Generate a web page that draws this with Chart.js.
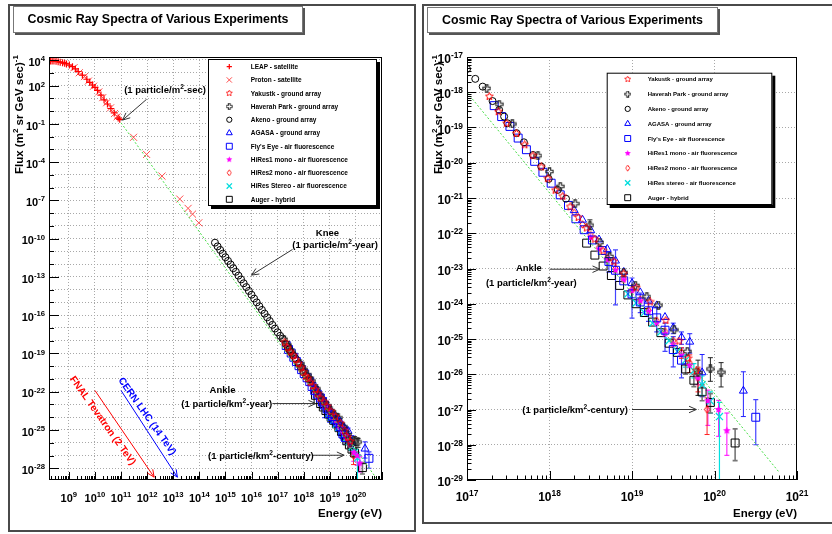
<!DOCTYPE html>
<html>
<head>
<meta charset="utf-8">
<title>Cosmic Ray Spectra of Various Experiments</title>
<script src="https://cdn.jsdelivr.net/npm/chart.js@4.4.1/dist/chart.umd.min.js"></script>
<style>
  html, body { margin: 0; padding: 0; background: #fff; }
  #page { position: relative; width: 832px; height: 534px; overflow: hidden; }
  .pane { position: absolute; top: 0; width: 416px; height: 534px; }
  .frame { position: absolute; box-sizing: border-box; border: 2px solid #4a4a4a; }
  .title { position: absolute; box-sizing: border-box; background: #fff; border: 1px solid #777;
           box-shadow: 2px 2px 0 #555; font: bold 12.4px "Liberation Sans", Arial, sans-serif;
           color: #000; text-align: center; white-space: nowrap; }
</style>
</head>
<body>
<div id="page">
  <div class="frame" style="left:8px;top:4px;width:408px;height:528px"></div>
  <div class="frame" style="left:422px;top:4px;width:420px;height:520px"></div>
  <div class="pane" style="left:0"><canvas id="full" width="416" height="534"></canvas></div>
  <div class="pane" style="left:416px"><canvas id="zoom" width="416" height="534"></canvas></div>
  <div class="title" style="left:13px;top:6px;width:290px;height:27px;line-height:25px">Cosmic Ray Spectra of Various Experiments</div>
  <div class="title" style="left:427px;top:7px;width:291px;height:26px;line-height:24px">Cosmic Ray Spectra of Various Experiments</div>
</div>
<script>
// values: log10(E / eV) and log10(flux)
const fitE = [11, 20.78];
const fitF = [-0.92, -28.77];

const leapE = [8.3, 8.36, 8.43, 8.51, 8.59, 8.67, 8.76, 8.84, 8.91, 9.02, 9.14, 9.25, 9.36, 9.52, 9.69, 9.8, 9.91, 10.0, 10.1, 10.23, 10.35, 10.48, 10.61, 10.74, 10.89, 10.95];
const leapF = [3.92, 3.92, 3.92, 3.9, 3.87, 3.83, 3.79, 3.74, 3.69, 3.6, 3.48, 3.3, 3.1, 2.82, 2.49, 2.25, 2.04, 1.85, 1.62, 1.25, 0.88, 0.55, 0.2, -0.15, -0.55, -0.65];

const protonE = [9.2, 9.4, 9.6, 9.75, 9.95, 10.15, 10.3, 10.45, 10.6, 10.75, 10.85, 11.48, 11.98, 12.57, 13.25, 13.57, 13.74, 13.98];
const protonF = [3.4, 3.0, 2.7, 2.35, 1.95, 1.5, 1.05, 0.65, 0.25, -0.2, -0.45, -2.06, -3.4, -5.1, -6.9, -7.63, -8.08, -8.76];

const yakutskE = [17.27, 17.38, 17.48, 17.6, 17.7, 17.8, 17.9, 17.98, 18.07, 18.16, 18.25, 18.35, 18.45, 18.55, 18.65, 18.78, 18.9, 19.05, 19.22, 19.41, 19.57, 19.68, 19.78];
const yakutskF = [-18.12, -18.55, -18.88, -19.17, -19.49, -19.8, -20.12, -20.45, -20.78, -20.95, -21.25, -21.55, -21.85, -22.17, -22.5, -22.8, -23.15, -23.55, -23.95, -24.47, -25.06, -25.55, -25.9];

const haverahE = [17.24, 17.39, 17.55, 17.86, 18.0, 18.13, 18.31, 18.49, 18.61, 18.73, 18.9, 19.04, 19.18, 19.32, 19.51, 19.67, 19.8, 19.95, 20.08];
const haverahF = [-17.89, -18.34, -18.9, -19.8, -20.25, -20.67, -21.16, -21.77, -22.26, -22.66, -23.11, -23.48, -23.8, -24.04, -24.74, -25.35, -25.95, -25.85, -25.94];
const haverahErr = [[18.49, -21.62, -21.9], [19.8, -25.6, -26.6], [19.95, -25.53, -26.2], [20.08, -25.67, -26.36]];

const akenoE = [14.6, 14.7, 14.8, 14.9, 15.0, 15.1, 15.2, 15.3, 15.4, 15.5, 15.6, 15.7, 15.8, 15.9, 16.0, 16.1, 16.2, 16.3, 16.4, 16.5, 16.6, 16.7, 16.8, 16.9, 17.0, 17.1, 17.19, 17.31, 17.39, 17.45, 17.49, 17.6, 17.69, 17.8, 17.9, 17.99, 18.1, 18.2];
const akenoF = [-10.32, -10.61, -10.89, -11.18, -11.46, -11.75, -12.03, -12.32, -12.6, -12.9, -13.2, -13.5, -13.8, -14.1, -14.4, -14.7, -15.0, -15.3, -15.59, -15.88, -16.17, -16.46, -16.76, -17.05, -17.34, -17.62, -17.84, -18.25, -18.5, -18.69, -18.88, -19.16, -19.42, -19.78, -20.11, -20.46, -20.77, -21.02];

const agasaE = [18.3, 18.4, 18.5, 18.6, 18.7, 18.8, 18.9, 19.0, 19.1, 19.2, 19.3, 19.4, 19.5, 19.6, 19.7, 19.85, 20.35];
const agasaF = [-21.35, -21.62, -21.92, -22.18, -22.45, -22.78, -23.1, -23.42, -23.68, -23.92, -24.05, -24.38, -24.68, -24.95, -25.08, -25.95, -26.47];
const agasaErr = [[19.5, -24.55, -24.85], [19.6, -24.8, -25.15], [19.7, -24.85, -25.4], [19.85, -25.44, -26.64], [20.35, -25.93, -27.2]];

const flysE = [17.33, 17.42, 17.52, 17.62, 17.72, 17.82, 17.92, 18.02, 18.13, 18.23, 18.32, 18.42, 18.52, 18.64, 18.72, 18.8, 18.9, 19.0, 19.1, 19.2, 19.3, 19.4, 19.5, 19.6, 20.5];
const flysF = [-18.38, -18.69, -18.97, -19.3, -19.63, -19.96, -20.27, -20.58, -20.91, -21.21, -21.59, -21.9, -22.19, -22.49, -22.8, -23.05, -23.35, -23.72, -23.95, -24.2, -24.4, -24.75, -25.3, -25.6, -27.22];
const flysErr = [[18.72, -22.55, -23.1], [18.8, -22.47, -24.03], [19.0, -23.27, -24.41], [19.1, -23.7, -24.25], [19.2, -23.95, -24.5], [19.3, -24.1, -24.8], [19.4, -24.55, -25.35], [19.5, -24.93, -25.79], [19.6, -25.25, -26.1], [20.5, -26.72, -28.0]];

const hires1E = [18.5, 18.6, 18.7, 18.8, 18.9, 19.0, 19.1, 19.2, 19.3, 19.4, 19.5, 19.6, 19.7, 19.8, 19.92, 20.05, 20.15];
const hires1F = [-22.12, -22.45, -22.75, -23.05, -23.32, -23.62, -23.92, -24.22, -24.55, -24.85, -25.15, -25.45, -25.75, -26.1, -26.75, -27.0, -27.6];
const hires1Err = [[19.8, -25.95, -26.3], [19.92, -26.45, -27.45], [20.05, -26.74, -27.76], [20.15, -27.1, -28.3]];

const hires2E = [18.3, 18.4, 18.5, 18.6, 18.7, 18.8, 18.9, 19.0, 19.1, 19.2, 19.3, 19.4, 19.5, 19.6, 19.7, 19.8, 19.91];
const hires2F = [-21.42, -21.75, -22.05, -22.4, -22.7, -23.0, -23.3, -23.6, -23.88, -24.18, -24.48, -24.78, -25.05, -25.38, -25.68, -26.1, -27.0];
const hires2Err = [[19.6, -25.25, -25.55], [19.7, -25.45, -25.95], [19.8, -25.8, -26.5], [19.91, -26.67, -27.71]];

const stereoE = [18.95, 19.05, 19.15, 19.25, 19.35, 19.45, 19.55, 19.65, 19.75, 19.85, 19.95, 20.06];
const stereoF = [-23.72, -23.98, -24.25, -24.55, -24.8, -25.05, -25.35, -25.6, -25.9, -26.3, -26.76, -27.2];
const stereoErr = [[19.65, -25.45, -25.8], [19.75, -25.7, -26.1], [19.85, -26.05, -26.6], [19.95, -26.5, -27.1], [20.06, -26.8, -32]];

const augerE = [18.45, 18.55, 18.65, 18.75, 18.85, 18.95, 19.05, 19.15, 19.25, 19.35, 19.45, 19.55, 19.65, 19.75, 19.85, 19.95, 20.25];
const augerF = [-22.28, -22.62, -22.93, -23.2, -23.48, -23.75, -24.0, -24.25, -24.52, -24.82, -25.12, -25.38, -25.85, -26.17, -26.5, -26.8, -27.95];
const augerErr = [[19.65, -25.7, -26.0], [19.75, -26.0, -26.35], [19.85, -26.3, -26.75], [19.95, -26.55, -27.1], [20.25, -27.55, -28.45]];

// axis tick labels (exponents)
const fullXLabels = [9, 10, 11, 12, 13, 14, 15, 16, 17, 18, 19, 20];
const fullYLabels = [4, 2, -1, -4, -7, -10, -13, -16, -19, -22, -25, -28];
const zoomXLabels = [17, 18, 19, 20, 21];
const zoomYLabels = [-17, -18, -19, -20, -21, -22, -23, -24, -25, -26, -27, -28, -29];

const FONT = '"Liberation Sans", Arial, sans-serif';
const pow10 = v => Math.pow(10, v);
const pts = (E, F) => E.map((e, i) => ({ x: pow10(e), y: pow10(F[i]) }));
const range = (a, b) => { const r = []; for (let i = a; i <= b; i++) r.push(i); return r; };

// ROOT-like marker shapes
function marker(size, draw) {
  const c = document.createElement('canvas');
  c.width = size; c.height = size;
  draw(c.getContext('2d'), size / 2);
  return c;
}
function starPath(g, c, ro, ri) {
  g.beginPath();
  for (let i = 0; i < 10; i++) {
    const r = i % 2 ? ri : ro, a = -Math.PI / 2 + i * Math.PI / 5;
    const px = c + r * Math.cos(a), py = c + r * Math.sin(a);
    if (i) g.lineTo(px, py); else g.moveTo(px, py);
  }
  g.closePath();
}
const openStar = marker(9, (g, c) => { starPath(g, c, 4, 1.9); g.strokeStyle = '#ff0000'; g.lineWidth = 1; g.stroke(); });
const fullStar = marker(9, (g, c) => { starPath(g, c, 4, 1.9); g.fillStyle = '#ff00ff'; g.fill(); });
const openCross = marker(9, (g, c) => {
  const a = 1.2, b = 3.6;
  const p = [[-a, -b], [a, -b], [a, -a], [b, -a], [b, a], [a, a], [a, b], [-a, b], [-a, a], [-b, a], [-b, -a], [-a, -a]];
  g.beginPath();
  p.forEach(([u, v], i) => i ? g.lineTo(c + u, c + v) : g.moveTo(c + u, c + v));
  g.closePath(); g.strokeStyle = '#222'; g.lineWidth = 1.1; g.stroke();
});
const openDiamond = marker(9, (g, c) => {
  g.beginPath(); g.moveTo(c, c - 3.7); g.lineTo(c + 2.6, c); g.lineTo(c, c + 3.7); g.lineTo(c - 2.6, c); g.closePath();
  g.strokeStyle = '#ff0000'; g.lineWidth = 1; g.stroke();
});

function series(label, E, F, style, color, radius, width) {
  return {
    label, data: pts(E, F), showLine: false,
    pointStyle: style, pointRadius: radius, pointBorderWidth: width || 1,
    pointBorderColor: color, pointBackgroundColor: 'rgba(0,0,0,0)', borderColor: color
  };
}
function fitLine() {
  return {
    data: pts(fitE, fitF), showLine: true, pointRadius: 0, borderColor: '#44dd44',
    borderWidth: 1, borderDash: [2, 2], backgroundColor: 'rgba(0,0,0,0)'
  };
}
function experiments(stereoName) {
  return [
    series('Yakustk - ground array', yakutskE, yakutskF, openStar, '#ff0000', 4),
    series('Haverah Park - ground array', haverahE, haverahF, openCross, '#222222', 4),
    series('Akeno - ground array', akenoE, akenoF, 'circle', '#000000', 3.5),
    series('AGASA - ground array', agasaE, agasaF, 'triangle', '#0000ff', 4.6),
    series("Fly's Eye - air fluorescence", flysE, flysF, 'rect', '#0000ff', 5.6),
    series('HiRes1 mono - air fluorescence', hires1E, hires1F, fullStar, '#ff00ff', 4),
    series('HiRes2 mono - air fluorescence', hires2E, hires2F, openDiamond, '#ff0000', 4),
    series(stereoName, stereoE, stereoF, 'crossRot', '#00dddd', 5, 1.3),
    series('Auger - hybrid', augerE, augerF, 'rect', '#000000', 5.6)
  ];
}
const errorSets = [
  [flysErr, '#4444ff', 1.2], [agasaErr, '#2222ff', 1], [haverahErr, '#222222', 1],
  [hires1Err, '#ff00ff', 1], [hires2Err, '#ff2222', 1], [stereoErr, '#00e0e0', 1.2], [augerErr, '#777777', 1.6]
];

// rich text with superscripts: segs = [[text, isSup], ...], y is baseline
function rich(ctx, segs, x, y, align, size, color) {
  const sup = size * 0.7;
  let w = 0;
  const ws = segs.map(([t, s]) => { ctx.font = 'bold ' + (s ? sup : size) + 'px ' + FONT; const m = ctx.measureText(t).width; w += m; return m; });
  let cx = align === 'right' ? x - w : align === 'center' ? x - w / 2 : x;
  ctx.fillStyle = color; ctx.textAlign = 'left'; ctx.textBaseline = 'alphabetic';
  segs.forEach(([t, s], i) => {
    ctx.font = 'bold ' + (s ? sup : size) + 'px ' + FONT;
    ctx.fillText(t, cx, s ? y - size * 0.42 : y);
    cx += ws[i];
  });
}
function arrow(ctx, x1, y1, x2, y2, color) {
  const a = Math.atan2(y2 - y1, x2 - x1), L = 8, h = 0.42;
  ctx.save(); ctx.strokeStyle = color; ctx.lineWidth = 1;
  ctx.beginPath(); ctx.moveTo(x1, y1); ctx.lineTo(x2, y2);
  ctx.moveTo(x2 - L * Math.cos(a - h), y2 - L * Math.sin(a - h));
  ctx.lineTo(x2, y2);
  ctx.lineTo(x2 - L * Math.cos(a + h), y2 - L * Math.sin(a + h));
  ctx.stroke(); ctx.restore();
}
function logMarks(lo, hi) {
  const out = [];
  for (let n = Math.floor(lo); n <= Math.ceil(hi); n++) {
    for (let k = 1; k <= 9; k++) {
      const v = n + Math.log10(k);
      if (v >= lo - 1e-6 && v <= hi + 1e-6) out.push({ v, major: k === 1, n });
    }
  }
  return out;
}

function rootPlugin(cfg) {
  return {
    id: 'root_' + cfg.id,
    beforeDatasetsDraw(chart) {
      const { ctx, chartArea: a, scales: { x, y } } = chart;
      ctx.save();
      ctx.beginPath(); ctx.rect(a.left, a.top, a.right - a.left, a.bottom - a.top); ctx.clip();
      errorSets.forEach(([list, color, width]) => {
        ctx.strokeStyle = color; ctx.lineWidth = width;
        list.forEach(([e, hi, lo]) => {
          const px = x.getPixelForValue(pow10(e));
          const y1 = y.getPixelForValue(pow10(hi)), y2 = y.getPixelForValue(pow10(lo));
          ctx.beginPath();
          ctx.moveTo(px, y1); ctx.lineTo(px, y2);
          ctx.moveTo(px - 2.5, y1); ctx.lineTo(px + 2.5, y1);
          ctx.moveTo(px - 2.5, y2); ctx.lineTo(px + 2.5, y2);
          ctx.stroke();
        });
      });
      ctx.restore();
    },
    afterDraw(chart) {
      const { ctx, chartArea: a, scales: { x, y } } = chart;
      const X = v => x.getPixelForValue(pow10(v));
      const Y = v => y.getPixelForValue(pow10(v));
      ctx.save();
      // frame
      ctx.strokeStyle = '#000'; ctx.lineWidth = 1;
      ctx.strokeRect(Math.round(a.left) + 0.5, Math.round(a.top) + 0.5, Math.round(a.right - a.left) - 1, Math.round(a.bottom - a.top) - 1);
      // ticks pointing into the frame
      ctx.beginPath();
      logMarks(cfg.xRange[0], cfg.xRange[1]).forEach(m => {
        const px = Math.round(X(m.v)) + 0.5, len = m.major ? cfg.tickMajor : cfg.tickMinor;
        ctx.moveTo(px, a.bottom); ctx.lineTo(px, a.bottom - len);
      });
      logMarks(cfg.yRange[0], cfg.yRange[1]).forEach(m => {
        if (!cfg.yMinor && !m.major) return;
        let len = m.major ? cfg.tickMajor : cfg.tickMinor;
        if (!cfg.yMinor) len = cfg.yLabels.includes(m.n) ? cfg.tickMajor + 2 : cfg.tickMinor + 1;
        const py = Math.round(Y(m.v)) + 0.5;
        ctx.moveTo(a.left, py); ctx.lineTo(a.left + len, py);
      });
      ctx.stroke();
      // tick labels
      cfg.xLabels.forEach(n => rich(ctx, [['10', 0], [String(n), 1]], X(n), cfg.xLabelBase, 'center', cfg.labelSize, '#000'));
      cfg.yLabels.forEach(n => rich(ctx, [['10', 0], [String(n), 1]], a.left - 4, Y(n) + cfg.labelSize * 0.52, 'right', cfg.labelSize, '#000'));
      // axis titles
      rich(ctx, [['Energy (eV)', 0]], a.right, 517, 'right', 11.5, '#000');
      ctx.save(); ctx.translate(cfg.yTitleX, a.top - 2); ctx.rotate(-Math.PI / 2);
      rich(ctx, [['Flux (m', 0], ['2', 1], [' sr GeV sec)', 0], ['-1', 1]], 0, 0, 'right', 11.5, '#000');
      ctx.restore();
      // annotations
      ctx.save();
      ctx.beginPath(); ctx.rect(a.left, a.top, a.right - a.left, a.bottom - a.top); ctx.clip();
      cfg.arrows.forEach(r => arrow(ctx, X(r.from[0]), Y(r.from[1]), X(r.to[0]), Y(r.to[1]), r.color));
      ctx.restore();
      cfg.texts.forEach(t => {
        const size = t.size || 9.5;
        if (t.angle) {
          ctx.save(); ctx.translate(X(t.e), Y(t.f)); ctx.rotate(t.angle * Math.PI / 180);
          rich(ctx, t.segs, 0, size * 0.36, 'center', size, t.color);
          ctx.restore();
        } else {
          rich(ctx, t.segs, X(t.e), Y(t.f) + size * 0.36, t.align, size, t.color || '#000');
        }
      });
      // legend box with shadow
      const L = cfg.legend;
      ctx.fillStyle = '#000';
      ctx.fillRect(L.x + 3, L.y + 3, L.w, L.h);
      ctx.fillStyle = '#fff';
      ctx.fillRect(L.x, L.y, L.w, L.h);
      ctx.strokeStyle = '#000'; ctx.lineWidth = 1;
      ctx.strokeRect(L.x + 0.5, L.y + 0.5, L.w - 1, L.h - 1);
      chart.data.datasets.filter(d => d.label).forEach((d, i) => {
        const my = L.row0 + i * L.rowH;
        ctx.save();
        if (typeof d.pointStyle === 'string') {
          ctx.strokeStyle = d.pointBorderColor; ctx.fillStyle = d.pointBackgroundColor; ctx.lineWidth = d.pointBorderWidth;
          Chart.helpers.drawPoint(ctx, { pointStyle: d.pointStyle, radius: d.pointRadius * 0.75, rotation: 0, borderWidth: d.pointBorderWidth }, L.markX, my);
        } else {
          const s = d.pointStyle.width * 0.8;
          ctx.drawImage(d.pointStyle, L.markX - s / 2, my - s / 2, s, s);
        }
        ctx.restore();
        rich(ctx, [[d.label, 0]], L.textX, my + L.size * 0.36, 'left', L.size, '#000');
      });
      ctx.restore();
    }
  };
}

function logAxis(lo, hi, grid, size, isX) {
  const ax = {
    type: 'logarithmic', bounds: 'data', min: pow10(lo), max: pow10(hi),
    afterBuildTicks: s => { s.ticks = grid.map(v => ({ value: pow10(v) })); },
    ticks: { display: false },
    grid: { color: '#a8a8a8', lineWidth: 1, drawTicks: false },
    border: { display: false, dash: [1, 2] }
  };
  if (isX) { ax.position = 'bottom'; ax.afterFit = s => { s.height = size; }; }
  else { ax.position = 'left'; ax.afterFit = s => { s.width = size; }; }
  return ax;
}

function makeChart(id, datasets, cfg) {
  return new Chart(document.getElementById(id), {
    type: 'scatter',
    data: { datasets },
    options: {
      responsive: false, maintainAspectRatio: false, animation: false, events: [],
      layout: { padding: cfg.padding },
      plugins: { legend: { display: false }, tooltip: { enabled: false } },
      scales: {
        x: logAxis(cfg.xRange[0], cfg.xRange[1], cfg.xGrid, 54, true),
        y: logAxis(cfg.yRange[0], cfg.yRange[1], cfg.yGrid, cfg.yWidth, false)
      }
    },
    plugins: [rootPlugin(cfg)]
  });
}

const km2year = [['(1 particle/km', 0], ['2', 1], ['-year)', 0]];
const km2century = [['(1 particle/km', 0], ['2', 1], ['-century)', 0]];

makeChart('full', [
  fitLine(),
  series('LEAP - satellite', leapE, leapF, 'cross', '#ff0000', 3.5, 1.2),
  series('Proton - satellite', protonE, protonF, 'crossRot', '#ff4d4d', 5),
  ...experiments('HiRes Stereo - air fluorescence')
], {
  id: 'full', padding: { top: 57, right: 34, left: 0, bottom: 0 }, yWidth: 49,
  xRange: [8.24, 21], yRange: [-28.92, 4.235],
  xGrid: range(9, 20), yGrid: range(-28, 4),
  xLabels: fullXLabels, yLabels: fullYLabels, yMinor: false,
  tickMajor: 8, tickMinor: 4, labelSize: 11, xLabelBase: 502, yTitleX: 23,
  legend: { x: 208, y: 59, w: 169, h: 147, row0: 66.7, rowH: 13.26, markX: 229.3, textX: 250.7, size: 6.5 },
  arrows: [
    { from: [11.98, 0.92], to: [11.06, -0.71], color: '#333' },
    { from: [17.57, -10.85], to: [16.0, -12.86], color: '#333' },
    { from: [16.8, -22.93], to: [18.46, -22.93], color: '#333' },
    { from: [18.34, -26.98], to: [19.55, -26.98], color: '#333' },
    { from: [10.0, -21.9], to: [12.27, -28.7], color: '#ff0000' },
    { from: [11.0, -21.9], to: [13.16, -28.7], color: '#0000ff' }
  ],
  texts: [
    { segs: [['(1 particle/m', 0], ['2', 1], ['-sec)', 0]], e: 11.12, f: 1.7, align: 'left' },
    { segs: [['Knee', 0]], e: 18.91, f: -9.55, align: 'center' },
    { segs: [['(1 particle/m', 0], ['2', 1], ['-year)', 0]], e: 19.2, f: -10.45, align: 'center' },
    { segs: [['Ankle', 0]], e: 14.89, f: -21.8, align: 'center' },
    { segs: km2year, e: 15.05, f: -22.93, align: 'center' },
    { segs: km2century, e: 16.36, f: -26.98, align: 'center' },
    { segs: [['FNAL Tevatron (2 TeV)', 0]], e: 10.32, f: -24.24, angle: 54.6, color: '#ff0000', size: 10 },
    { segs: [['CERN LHC (14 TeV)', 0]], e: 12.02, f: -23.9, angle: 54.6, color: '#0000ff', size: 10 }
  ]
});

makeChart('zoom', [
  fitLine(),
  ...experiments('HiRes stereo - air fluorescence')
], {
  id: 'zoom', padding: { top: 57, right: 35, left: 0, bottom: 0 }, yWidth: 51,
  xRange: [17, 21], yRange: [-29, -17],
  xGrid: range(18, 20), yGrid: range(-28, -18),
  xLabels: zoomXLabels, yLabels: zoomYLabels, yMinor: true,
  tickMajor: 9, tickMinor: 4.5, labelSize: 12, xLabelBase: 501, yTitleX: 26,
  legend: { x: 190.7, y: 72.7, w: 165.6, h: 132.3, row0: 79.3, rowH: 14.8, markX: 211.7, textX: 231.7, size: 6 },
  arrows: [
    { from: [18.0, -23.02], to: [18.61, -23.02], color: '#333' },
    { from: [19.0, -27.0], to: [19.78, -27.0], color: '#333' }
  ],
  texts: [
    { segs: [['Ankle', 0]], e: 17.75, f: -22.97, align: 'center' },
    { segs: km2year, e: 17.78, f: -23.4, align: 'center' },
    { segs: km2century, e: 18.31, f: -27.0, align: 'center' }
  ]
});
</script>
</body>
</html>
